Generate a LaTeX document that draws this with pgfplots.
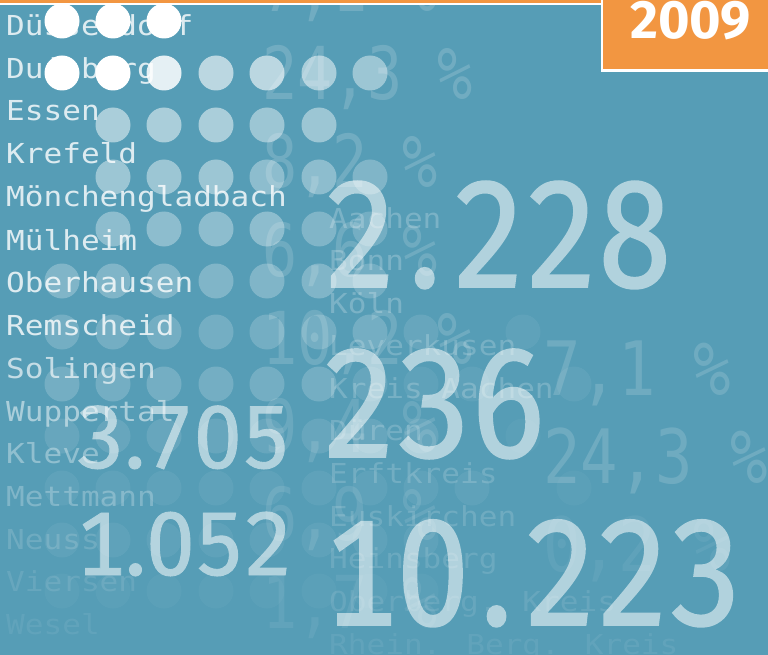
\documentclass[border=0pt]{standalone}
\usepackage{pgfplots}
\pgfplotsset{compat=1.18}
\usepackage{fontspec}
\setmainfont{Fira Sans}
\newfontfamily\namefont{DejaVu Sans Mono}[FakeStretch=1.13]
\newfontfamily\pctfont{DejaVu Sans Mono}[FakeStretch=0.8]
\newfontfamily\pctfontR{DejaVu Sans Mono}[FakeStretch=0.83]
\newfontfamily\bigfont{Fira Sans}[FakeStretch=0.863, Numbers=Monospaced, FakeBold=1.2]
\newfontfamily\smallfont{Fira Sans}[FakeStretch=0.97, Numbers=Monospaced, FakeBold=1]
\newfontfamily\yearfont{Fira Sans}[FakeStretch=1.0]
\definecolor{bgteal}{RGB}{86,157,182}
\definecolor{orng}{RGB}{242,150,65}
\colorlet{numcol}{white!54!bgteal}
\newcommand{\pt}{\kern12pt.\kern12pt}
\newcommand{\cityL}[3]{\node[anchor=base west,inner sep=0pt,text=white,text opacity=#3,font=\namefont\fontsize{27.5}{30}\selectfont] at (axis cs:6,#2) {#1};}
\newcommand{\cityR}[3]{\node[anchor=base west,inner sep=0pt,text=white,text opacity=#3,font=\namefont\fontsize{27.5}{30}\selectfont] at (axis cs:329,#2) {#1};}
\newcommand{\pct}[4]{\node[anchor=base west,inner sep=0pt,text=white,text opacity=#4,font=\pctfont\fontsize{73}{75}\selectfont] at (axis cs:#1,#2) {#3};}
\newcommand{\pctR}[4]{\node[anchor=base west,inner sep=0pt,text=white,text opacity=#4,font=\pctfontR\fontsize{75}{75}\selectfont] at (axis cs:#1,#2) {#3};}
\newcommand{\bignum}[4]{\node[anchor=base west,inner sep=0pt,text=numcol,font=\bigfont\fontsize{#4}{#4}\selectfont] at (axis cs:#1,#2) {#3};}
\newcommand{\smallnum}[4]{\node[anchor=base west,inner sep=0pt,text=numcol,font=\smallfont\fontsize{#4}{#4}\selectfont] at (axis cs:#1,#2) {#3};}
\pgfplotsset{dot/.style={only marks, mark=*, mark size=17.5pt, color=white,
  mark options={draw=white, fill=white, draw opacity=0, fill opacity=#1}}}
\begin{document}
\begin{tikzpicture}
\useasboundingbox (0,0) rectangle (768pt,655pt);
\begin{axis}[at={(0,0)}, anchor=south west, scale only axis, width=768pt, height=655pt,
  xmin=0, xmax=768, ymin=0, ymax=655, y dir=reverse,
  hide axis, clip=true]
% background
\addplot[fill=bgteal, draw=none] coordinates {(0,0) (768,0) (768,655) (0,655)} -- cycle;
% big numbers
\bignum{324}{287}{2\pt228}{151}
\bignum{322}{457}{236}{154}
\bignum{324}{625}{10\pt223}{150}
\smallnum{76}{468}{3.705}{89}
\smallnum{76}{575}{1.052}{90}
% faint percentages
\pct{262}{12}{7,1 \%}{0.16}
\pct{262}{100}{24,3 \%}{0.16}
\pct{262}{188}{8,2 \%}{0.16}
\pct{262}{276}{6,6 \%}{0.15}
\pct{262}{364}{10,2 \%}{0.15}
\pct{262}{452}{9,4 \%}{0.12}
\pct{262}{540}{6,9 \%}{0.1}
\pct{262}{628}{1,7 \%}{0.07}
\pctR{543}{395}{7,1 \%}{0.15}
\pctR{543}{483}{24,3 \%}{0.15}
\pctR{543}{571}{0,2 \%}{0.06}
% city names, left
\cityL{Düsseldorf}{36}{0.8}
\cityL{Duisburg}{79}{0.8}
\cityL{Essen}{121}{0.8}
\cityL{Krefeld}{164}{0.8}
\cityL{Mönchengladbach}{207}{0.8}
\cityL{Mülheim}{250}{0.8}
\cityL{Oberhausen}{292}{0.8}
\cityL{Remscheid}{335}{0.8}
\cityL{Solingen}{378}{0.65}
\cityL{Wuppertal}{421}{0.5}
\cityL{Kleve}{463}{0.35}
\cityL{Mettmann}{506}{0.25}
\cityL{Neuss}{549}{0.15}
\cityL{Viersen}{591}{0.1}
\cityL{Wesel}{634}{0.07}
% city names, right
\cityR{Aachen}{228}{0.22}
\cityR{Bonn}{270}{0.22}
\cityR{Köln}{313}{0.22}
\cityR{Leverkusen}{355}{0.2}
\cityR{Kreis Aachen}{398}{0.2}
\cityR{Düren}{440}{0.18}
\cityR{Erftkreis}{483}{0.17}
\cityR{Euskirchen}{526}{0.15}
\cityR{Heinsberg}{568}{0.13}
\cityR{Oberberg. Kreis}{611}{0.1}
\cityR{Rhein. Berg. Kreis}{654}{0.07}
% dots
\addplot[dot=1] coordinates {(62,21) (113,21) (164,21) (62,73) (113,73)};
\addplot[dot=0.85] coordinates {(164,73)};
\addplot[dot=0.6] coordinates {(216,73) (267,73)};
\addplot[dot=0.5] coordinates {(319,73) (113,125) (164,125) (216,125)};
\addplot[dot=0.42] coordinates {(370,73) (267,125) (319,125) (113,177) (164,177) (216,177)};
\addplot[dot=0.33] coordinates {(267,177) (319,177) (113,229) (164,229) (216,229) (267,229)};
\addplot[dot=0.25] coordinates {(370,177) (319,229) (62,281) (113,281) (164,281) (216,281) (267,281) (319,281)};
\addplot[dot=0.18] coordinates {(370,229) (370,281) (62,332) (113,332) (164,332) (216,332) (267,332) (319,332) (370,332)
  (62,384) (113,384) (164,384) (216,384) (267,384) (319,384)};
\addplot[dot=0.1] coordinates {(370,384) (421,332) (62,436) (113,436) (164,436) (216,436) (267,436) (319,436) (370,436) (421,436)};
\addplot[dot=0.06] coordinates {(421,384) (472,384) (62,488) (113,488) (164,488) (216,488) (267,488) (319,488) (370,488) (421,488) (472,488)
  (62,540) (113,540) (164,540) (216,540) (267,540) (319,540) (370,540) (421,540) (523,332) (574,384)};
\addplot[dot=0.035] coordinates {(62,591) (113,591) (164,591) (216,591) (267,591) (319,591) (370,591) (421,591) (523,436) (574,488)};
% top stripe and year box
\addplot[fill=white, draw=none] coordinates {(0,0) (601,0) (601,5) (0,5)} -- cycle;
\addplot[fill=orng, draw=none] coordinates {(0,0) (601,0) (601,2.7) (0,2.7)} -- cycle;
\addplot[fill=white, draw=none] coordinates {(600.5,0) (768,0) (768,72.5) (600.5,72.5)} -- cycle;
\addplot[fill=orng, draw=none] coordinates {(603.3,0) (768,0) (768,69.5) (603.3,69.5)} -- cycle;
\node[anchor=base west,inner sep=0pt,text=white,font=\yearfont\bfseries\fontsize{54}{54}\selectfont] at (axis cs:630,39) {2009};
\end{axis}
\end{tikzpicture}
\end{document}
